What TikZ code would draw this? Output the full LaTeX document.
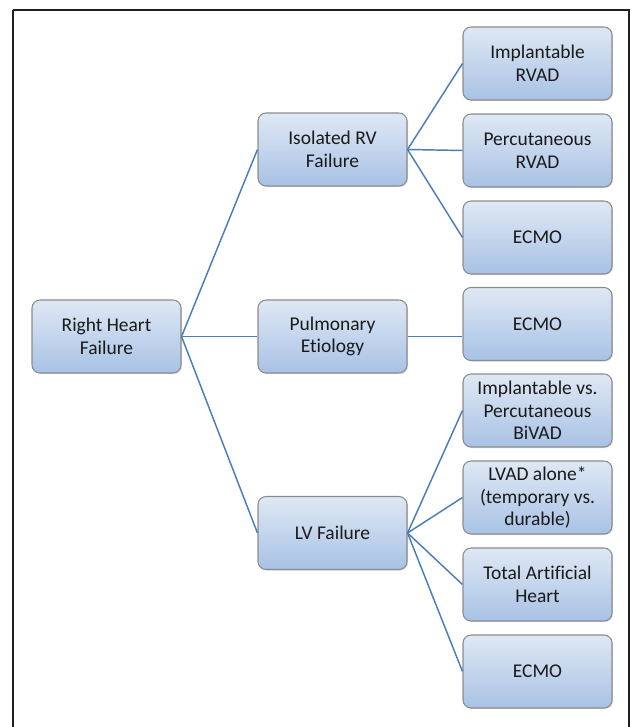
\documentclass[tikz,border=0pt]{standalone}
\usepackage{fontspec}
\setmainfont[Ligatures=NoCommon]{Carlito}
\usepackage{xcolor}
\usepackage{tikz}
\usetikzlibrary{shadows}
\definecolor{frameline}{HTML}{231F20}
\definecolor{boxtop}{HTML}{DFE8F4}
\definecolor{boxbot}{HTML}{A8C2E5}
\definecolor{boxline}{HTML}{8C8C8C}
\definecolor{link}{HTML}{4A7EBB}
\definecolor{ink}{HTML}{1A1A1A}
\tikzset{
  frame/.style={draw=frameline, line width=1.6pt},
  box/.style={draw=boxline, line width=0.8pt, rounded corners=6pt,
    top color=boxtop, bottom color=boxbot, text=ink, align=center,
    minimum width=111.75pt, minimum height=54.75pt, inner sep=2pt,
    font=\fontsize{14.6}{16.9}\selectfont,
    drop shadow={opacity=0.25, shadow xshift=0.8pt, shadow yshift=-0.8pt}},
  conn/.style={draw=link, line width=1.1pt},
}
\begin{document}
\begin{tikzpicture}[x=0.75pt, y=-0.75pt]
\useasboundingbox (0,0) rectangle (632,727);
\fill[white] (0,0) rectangle (632,727);
\draw[frame] (13,10) -- (629,10) -- (629,760) (13,10) -- (13,760);
% level 1 and 2
\node[box] (root) at (106.5,336.5) {Right Heart\\Failure};
\node[box] (isoRV) at (332.5,149.5) {Isolated RV\\Failure};
\node[box] (pulm) at (332.5,336.5) {Pulmonary\\Etiology};
\node[box] (lvf) at (332.5,533) {LV Failure};
% level 3
\node[box] (implRVAD) at (537.5,63.5) {Implantable\\RVAD};
\node[box] (percRVAD) at (537.5,150.5) {Percutaneous\\RVAD};
\node[box] (ecmoA) at (537.5,237.5) {ECMO};
\node[box] (ecmoB) at (537.5,324) {ECMO};
\node[box] (bivad) at (537.5,410.5) {Implantable vs.\\Percutaneous\\BiVAD};
\node[box] (lvad) at (537.5,497.5) {LVAD alone*\\(temporary vs.\\durable)};
\node[box] (tah) at (537.5,584.5) {Total Artificial\\Heart};
\node[box] (ecmoC) at (537.5,671.5) {ECMO};
% connectors
\foreach \kid in {isoRV,pulm,lvf}
  \draw[conn] (root.east) -- (\kid.west);
\foreach \kid in {implRVAD,percRVAD,ecmoA}
  \draw[conn] (isoRV.east) -- (\kid.west);
\draw[conn] (pulm.east) -- (pulm.east -| ecmoB.west);
\foreach \kid in {bivad,lvad,tah,ecmoC}
  \draw[conn] (lvf.east) -- (\kid.west);
\end{tikzpicture}
\end{document}
